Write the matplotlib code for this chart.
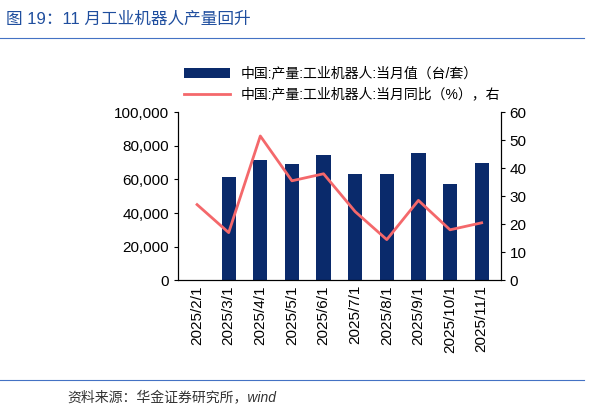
import numpy as np
import matplotlib.pyplot as plt

plt.rcParams['font.family'] = ['Liberation Sans', 'Noto Sans CJK SC', 'DejaVu Sans']

months = ['2025/2/1', '2025/3/1', '2025/4/1', '2025/5/1', '2025/6/1',
          '2025/7/1', '2025/8/1', '2025/9/1', '2025/10/1', '2025/11/1']
output = [np.nan, 61500, 71500, 69000, 74500, 63500, 63500, 76000, 57500, 69500]
yoy = [27, 17, 51.5, 35.5, 38, 24.5, 14.5, 28.5, 18, 20.5]

fig = plt.figure(figsize=(6.12, 4.17), dpi=100)
ax = fig.add_axes([0.291, 0.328, 0.527, 0.403])
ax2 = ax.twinx()

x = np.arange(len(months))
ax.bar(x, output, width=0.45, color='#0A2A6B', label='中国:产量:工业机器人:当月值（台/套）')
ax2.plot(x, yoy, color='#F4686B', lw=2, label='中国:产量:工业机器人:当月同比（%），右')

ax.set_ylim(0, 100000)
ax.set_yticks(range(0, 100001, 20000))
ax.set_yticklabels([f'{v:,}' for v in range(0, 100001, 20000)])
ax2.set_ylim(0, 60)
ax2.set_yticks(range(0, 61, 10))
ax.set_xlim(-0.6, len(months) - 0.4)
ax.set_xticks(x)
ax.set_xticklabels(months, rotation=90)
for a in (ax, ax2):
    a.tick_params(labelsize=11, length=3)
    a.spines['top'].set_visible(False)
ax.tick_params(axis='x', length=0)

h1, l1 = ax.get_legend_handles_labels()
h2, l2 = ax2.get_legend_handles_labels()
fig.legend(h1 + h2, l1 + l2, loc='upper left', bbox_to_anchor=(0.28, 0.87),
           frameon=False, fontsize=10, handlelength=3.3, labelspacing=0.5)

fig.text(0.01, 0.955, '图 19：11 月工业机器人产量回升', fontsize=12, color='#1F4E9E',
         va='center')
fig.add_artist(plt.Line2D([0.0, 0.955], [0.91, 0.91], color='#4472C4', lw=0.8))
fig.add_artist(plt.Line2D([0.0, 0.955], [0.088, 0.088], color='#4472C4', lw=0.8))
fig.text(0.11, 0.045, '资料来源：华金证券研究所，wind', fontsize=10, style='italic',
         color='#333333', va='center')

fig.savefig('out.png', dpi=100)
